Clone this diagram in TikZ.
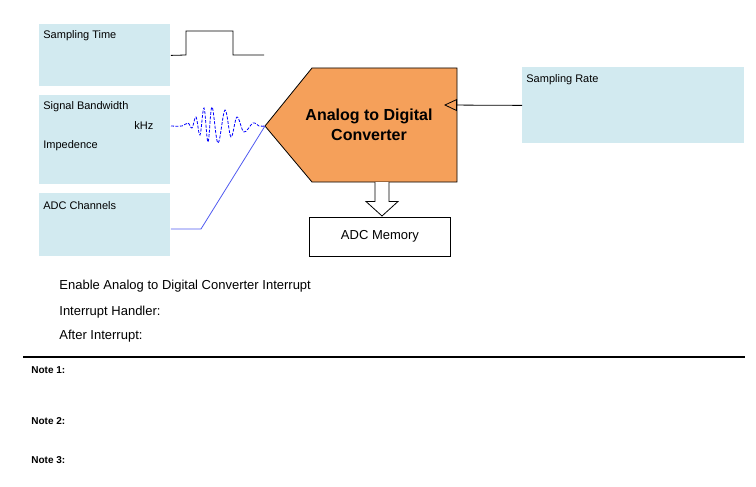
\documentclass[tikz,border=0pt]{standalone}
\usepackage{fontspec}
\setmainfont{Liberation Sans}
\usetikzlibrary{arrows.meta}
\definecolor{boxblue}{RGB}{210,234,240}
\definecolor{adcorange}{RGB}{245,160,90}
\definecolor{wireblue}{RGB}{80,90,240}

\begin{document}
\begin{tikzpicture}[x=1pt, y=-1pt, line width=0.8,
	infobox/.style={fill=boxblue, anchor=north west, inner sep=0},
	lbl/.style={anchor=base west, inner sep=0, font=\fontsize{11}{13}\selectfont},
	txt/.style={anchor=base west, inner sep=0, font=\fontsize{13}{15}\selectfont},
	note/.style={anchor=base west, inner sep=0, font=\fontsize{10}{12}\selectfont\bfseries}]
\useasboundingbox (0,0) rectangle (756,487);

	%% Eingaben links
	\node[infobox, minimum width=131, minimum height=62] (samptime) at (39,24) {};
	\node[infobox, minimum width=131, minimum height=89] (bandwidth) at (39,95) {};
	\node[infobox, minimum width=131, minimum height=63] (channels) at (39,193) {};
	\node[lbl] (samptimelbl) at (43,39) {Sampling Time};
	\node[lbl] (bandwidthlbl) at (43,110) {Signal Bandwidth};
	\node[lbl] (khzlbl) at (134,130) {kHz};
	\node[lbl] (impedlbl) at (43,149) {Impedence};
	\node[lbl] (channelslbl) at (43,209.5) {ADC Channels};

	%% Eingabe rechts
	\node[infobox, minimum width=222, minimum height=76] (ratebox) at (522,67) {};
	\node[lbl] (ratelbl) at (526,82.5) {Sampling Rate};

	%%%%%%%%%%%%%%%%

	%% Wandler
	\coordinate (adctip) at (265,126);
	\draw[fill=adcorange] (adctip) -- (312,68) -- (457,68) -- (457,182) -- (312,182) -- cycle;
	\node[align=center, inner sep=0, font=\fontsize{16}{20}\selectfont\bfseries] (adc) at (369,125)
		{Analog to Digital\\Converter};

	%% Speicher
	\node[draw, fill=white, minimum width=141, minimum height=39, inner sep=0,
		font=\fontsize{13}{15}\selectfont] (memory) at (380,236.5) {ADC Memory};
	\draw[fill=white] (375,182) -- (375,201.5) -- (366,201.5) -- (382,216) -- (398,201.5) -- (389,201.5) -- (389,182);

	%% Abtastpuls
	\draw (samptime.east) -- (186,55) -- (186,31) -- (233,31) -- (233,55) -- (264,55);

	%% Signal
	\draw[blue, dash pattern=on 3 off 1.5] plot[smooth, tension=0.6] coordinates {(171,126) (182,126) (188,123)
		(192,128) (196,117) (200,135) (204,108) (208,142) (212,107) (218,143) (225,110) (231,137)
		(237,117) (244,132) (253,123) (259,126) (adctip)};

	%% Kanaele
	\coordinate (chanbend) at (201,229);
	\draw[wireblue] (channels.east |- chanbend) -- (chanbend) -- (adctip);

	%% Abtastrate
	\coordinate (ratein) at (444,105);
	\draw[-{Triangle[open, length=13, width=12]}] (ratebox.west) -- (ratein);

	%%%%%%%%%%%%%%%%

	%% Text unten
	\node[txt] (enable) at (59,289) {Enable Analog to Digital Converter Interrupt};
	\node[txt] (handler) at (59,315) {Interrupt Handler:};
	\node[txt] (after) at (59,339) {After Interrupt:};

	\draw[line width=1.5] (23,357) -- (745,357);

	\node[note] (note1) at (31,373) {Note 1:};
	\node[note] (note2) at (31,424) {Note 2:};
	\node[note] (note3) at (31,463) {Note 3:};

\end{tikzpicture}
\end{document}
